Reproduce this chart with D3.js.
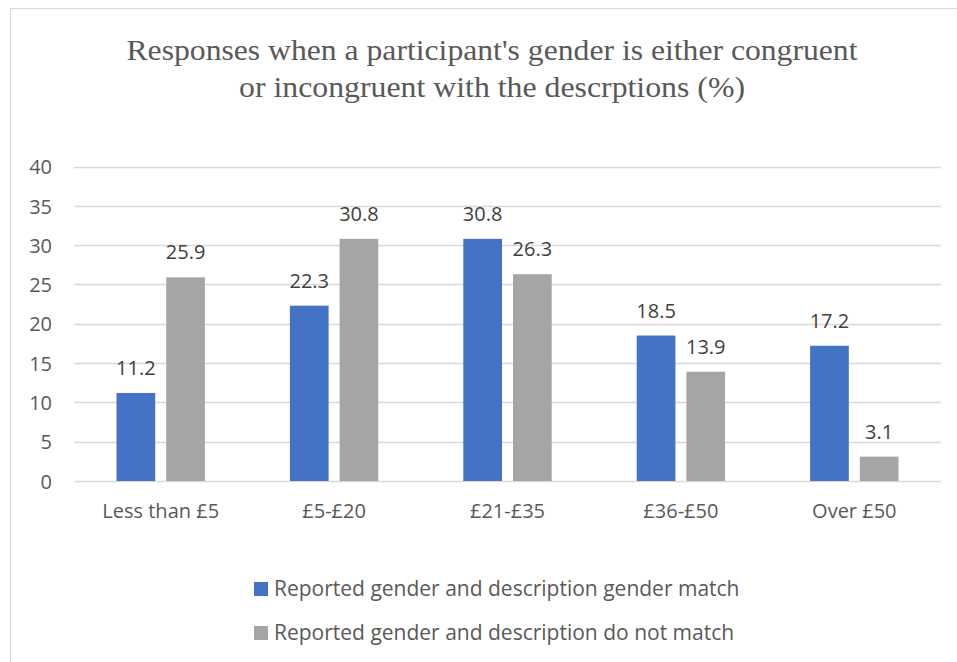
<!DOCTYPE html>
<html><head><meta charset="utf-8">
<script src="https://cdn.jsdelivr.net/npm/d3@7"></script>
<style>body{margin:0;background:#fff}svg{display:block}</style>
</head><body>
<svg id="c" width="957" height="662"></svg>
<script>
const categories = ["Less than £5", "£5-£20", "£21-£35", "£36-£50", "Over £50"];
const seriesNames = ["Reported gender and description gender match", "Reported gender and description do not match"];
const matchValues = [11.2, 22.3, 30.8, 18.5, 17.2];
const noMatchValues = [25.9, 30.8, 26.3, 13.9, 3.1];
const yTicks = [0, 5, 10, 15, 20, 25, 30, 35, 40];
const titleLines = ["Responses when a participant's gender is either congruent", "or incongruent with the descrptions (%)"];
const colors = ["#4472C4", "#A5A5A5"];

const svg = d3.select("#c");
const font = "'Open Sans', sans-serif";

svg.append("rect").attr("x", 10.5).attr("y", 8.5).attr("width", 980).attr("height", 700)
  .attr("fill", "#fff").attr("stroke", "#d9d9d9").attr("stroke-width", 1);

const titleLen = [731, 506];
const t = svg.append("g").attr("font-family", "'Liberation Serif', 'Times New Roman', serif")
  .attr("font-size", 30).attr("fill", "#595959");
titleLines.forEach((l, i) => t.append("text").attr("x", 492 - titleLen[i] / 2).attr("y", 60 + i * 37)
  .attr("textLength", titleLen[i]).attr("lengthAdjust", "spacingAndGlyphs").text(l));

const x0 = d3.scaleBand().domain(categories).range([74, 941]).paddingInner(0).paddingOuter(0);
const y = d3.scaleLinear().domain([0, 40]).range([481, 166.5]);

const grid = svg.append("g");
yTicks.forEach(v => grid.append("line").attr("x1", 74).attr("x2", 941)
  .attr("y1", Math.round(y(v)) + 0.5).attr("y2", Math.round(y(v)) + 0.5)
  .attr("stroke", "#d9d9d9").attr("stroke-width", 1.3));

const yAxis = d3.axisLeft(y).tickValues(yTicks).tickSize(0).tickPadding(0);
const ya = svg.append("g").attr("transform", "translate(52,0)").call(yAxis);
ya.select(".domain").remove();
ya.selectAll("text").attr("font-family", font).attr("font-size", 20).attr("fill", "#595959").attr("dy", "0.36em");

const xAxis = d3.axisBottom(x0).tickSize(0).tickPadding(0);
const xa = svg.append("g").attr("transform", "translate(0,518)").call(xAxis);
xa.select(".domain").remove();
xa.selectAll("text").attr("font-family", font).attr("font-size", 20).attr("fill", "#595959").attr("dy", "0");

const barW = 38.7, gap = 11;
const series = [matchValues, noMatchValues];
series.forEach((vals, si) => {
  const g = svg.append("g");
  vals.forEach((v, i) => {
    const cx = x0(categories[i]) + x0.bandwidth() / 2;
    const bx = si === 0 ? cx - gap / 2 - barW : cx + gap / 2;
    g.append("rect").attr("x", bx).attr("y", y(v)).attr("width", barW).attr("height", y(0) - y(v))
      .attr("fill", colors[si]);
    g.append("text").attr("x", bx + barW / 2).attr("y", y(v) - 18).attr("text-anchor", "middle")
      .attr("font-family", font).attr("font-size", 20).attr("fill", "#404040").text(v.toFixed(1));
  });
});

const leg = svg.append("g");
seriesNames.forEach((n, i) => {
  const ly = 596 + i * 44;
  leg.append("rect").attr("x", 254).attr("y", ly - 14).attr("width", 14).attr("height", 14).attr("fill", colors[i]);
  leg.append("text").attr("x", 274).attr("y", ly).attr("font-family", font)
    .attr("font-size", 21).attr("fill", "#595959").text(n);
});
</script>
</body></html>
